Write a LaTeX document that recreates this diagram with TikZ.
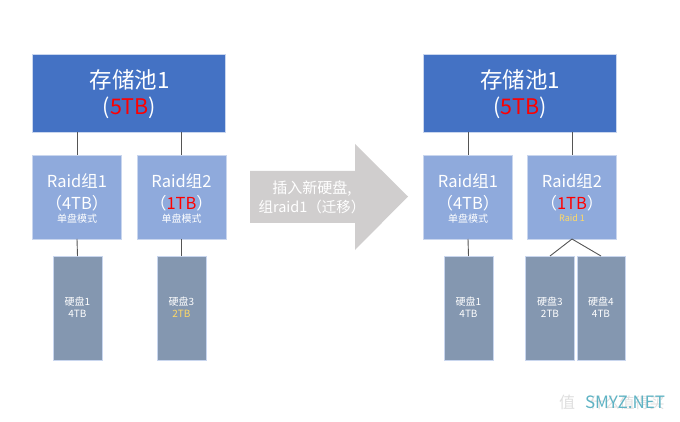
\documentclass[tikz,border=0pt]{standalone}
\usepackage{fontspec}
\setmainfont{Noto Sans CJK SC}
\definecolor{pool}{HTML}{4472C4}
\definecolor{raidc}{HTML}{8FAADC}
\definecolor{disk}{HTML}{8497B0}
\definecolor{arrowc}{HTML}{D0CECE}
\definecolor{edge}{HTML}{C9D6EE}
\definecolor{linec}{HTML}{555555}
\definecolor{gold}{HTML}{FFD966}
\definecolor{wmark}{HTML}{5FB3C4}
\tikzset{
 x=1pt,y=-1pt,
 box/.style={draw=edge,line width=0.6pt,inner sep=0pt,outer sep=0pt,anchor=north west},
 poolbox/.style={box,fill=pool,minimum width=193pt,minimum height=78pt},
 raidbox/.style={box,fill=raidc,minimum width=89pt,minimum height=84pt},
 diskbox/.style={box,fill=disk,minimum width=49pt,minimum height=104pt},
 tx/.style={text=white,inner sep=0pt,font=\fontsize{#1}{#1}\selectfont},
 link/.style={draw=linec,line width=0.9pt},
}
\newcommand{\red}[1]{\textcolor{red}{#1}}
\begin{document}
\begin{tikzpicture}
\useasboundingbox (0,0) rectangle (680,422);
% left
\node[poolbox] (p1) at (32.5,54) {};
\node[raidbox] (r1) at (32.5,155) {};
\node[raidbox] (r2) at (137,155) {};
\node[diskbox] (d1) at (53,256) {};
\node[diskbox] (d2) at (157,256) {};
\draw[link] (p1.south -| r1.north) -- (r1.north);
\draw[link] (p1.south -| r2.north) -- (r2.north);
\draw[link] (r1.south) -- (d1.north);
\draw[link] (r2.south) -- (d2.north);
% right
\node[poolbox] (p2) at (423.5,54) {};
\node[raidbox] (r3) at (423.5,155) {};
\node[raidbox] (r4) at (527.5,155) {};
\node[diskbox] (d3) at (444,256) {};
\node[diskbox] (d4) at (525.5,256) {};
\node[diskbox,minimum width=48pt] (d5) at (577,256) {};
\draw[link] (p2.south -| r3.north) -- (r3.north);
\draw[link] (p2.south -| r4.north) -- (r4.north);
\draw[link] (r3.south) -- (d3.north);
\draw[link] (r4.south) -- (d4.north);
\draw[link] (r4.south) -- (d5.north);
% arrow
\fill[arrowc] (250,171) -- (355,171) -- (355,144) -- (408,196.5) -- (355,250) -- (355,223) -- (250,223) -- cycle;
\node[tx=15] (a1) at (312,189) {插入新硬盘,};
\node[tx=14.5] (a2) at (312,207) {组raid1（迁移）};
% text left
\node[tx=22.5] (t1) at (129.5,80) {存储池1};
\node[tx=21.5] (t2) at (129.5,108) {(\red{5TB})};
\node[tx=16.5] (t3) at (77,181.5) {Raid组1};
\node[tx=16.5] (t4) at (77,203) {（4TB）};
\node[tx=10] (t5) at (77,218.5) {单盘模式};
\node[tx=16.5] (t6) at (181.5,181.5) {Raid组2};
\node[tx=16.5] (t7) at (181.5,203) {（\red{1TB}）};
\node[tx=10] (t8) at (181.5,218.5) {单盘模式};
\node[tx=10] (t9) at (77.5,302) {硬盘1};
\node[tx=10] (t10) at (77.5,314) {4TB};
\node[tx=10] (t11) at (181.5,302) {硬盘3};
\node[tx=10,text=gold] (t12) at (181.5,314) {2TB};
% text right
\node[tx=22.5] (t13) at (520,80) {存储池1};
\node[tx=21.5] (t14) at (520,108) {(\red{5TB})};
\node[tx=16.5] (t15) at (468,181.5) {Raid组1};
\node[tx=16.5] (t16) at (468,203) {（4TB）};
\node[tx=10] (t17) at (468,218.5) {单盘模式};
\node[tx=16.5] (t18) at (572,181.5) {Raid组2};
\node[tx=16.5] (t19) at (572,203) {（\red{1TB}）};
\node[tx=9,text=gold] (t20) at (572,218) {Raid 1};
\node[tx=10] (t21) at (468.5,302) {硬盘1};
\node[tx=10] (t22) at (468.5,314) {4TB};
\node[tx=10] (t23) at (550,302) {硬盘3};
\node[tx=10] (t24) at (550,314) {2TB};
\node[tx=10] (t25) at (601,302) {硬盘4};
\node[tx=10] (t26) at (601,314) {4TB};
% watermark
\node[tx=16,text=black!13] (w1) at (567,402) {值};
\node[tx=15,text=black!13] (w2) at (627,403) {什么值得买};
\node[tx=17,text=wmark] (w3) at (625,402) {SMYZ.NET};
\end{tikzpicture}
\end{document}
